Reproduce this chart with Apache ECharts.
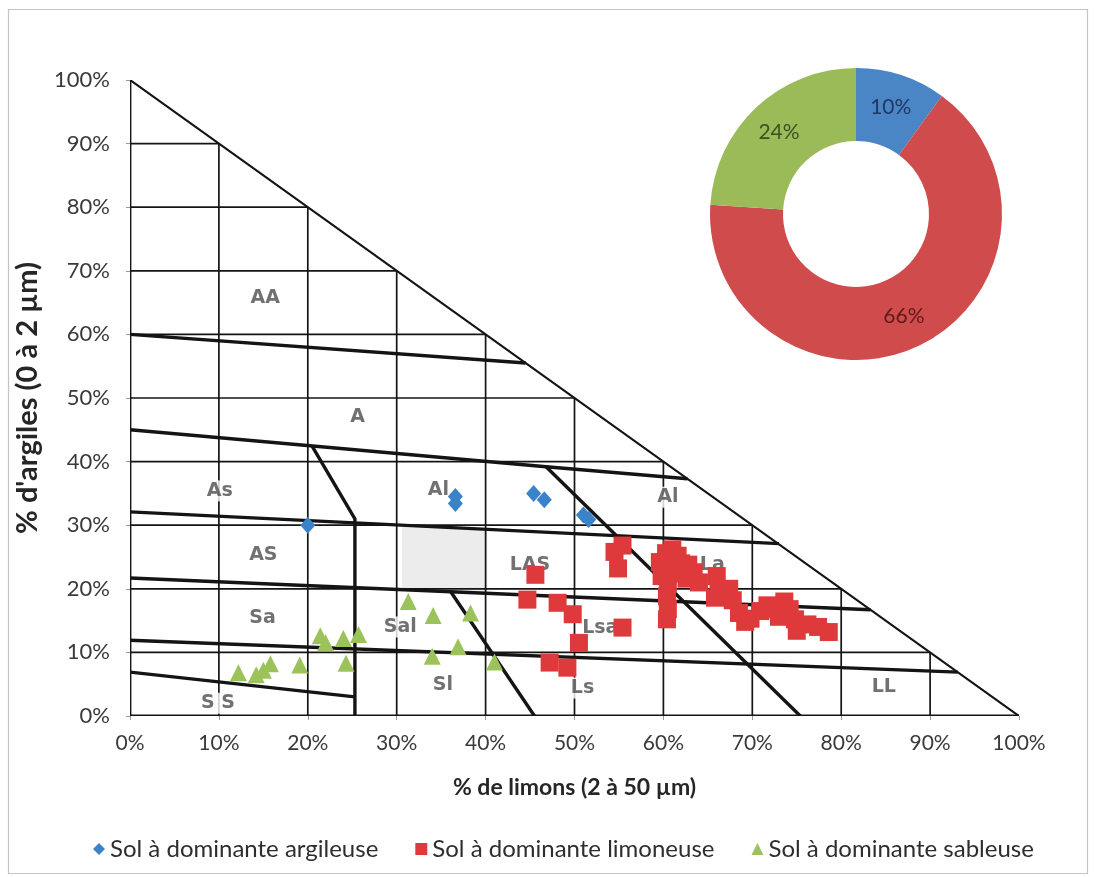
<!DOCTYPE html>
<html>
<head>
<meta charset="utf-8">
<script src="https://cdn.jsdelivr.net/npm/echarts@6/dist/echarts.min.js"></script>
<style>
  html, body { margin: 0; padding: 0; background: #ffffff; }
  #chart { width: 1094px; height: 877px; }
</style>
</head>
<body>
<div id="chart"></div>
<script>
// Series names (legend)
const seriesNames = ['Sol à dominante argileuse', 'Sol à dominante limoneuse', 'Sol à dominante sableuse'];

// Samples: [% limons, % argiles]
const argileux = [
  [20.0, 30.0], [36.6, 34.5], [36.6, 33.4], [45.4, 35.0], [46.6, 34.0], [51.0, 31.6], [51.6, 30.9]
];
const limoneux = [
  [45.6, 22.2], [44.7, 18.3], [48.1, 17.8], [49.8, 16.0], [50.5, 11.5], [47.2, 8.4], [49.2, 7.6],
  [55.4, 13.9], [54.5, 25.8], [55.4, 26.8], [54.9, 23.2], [59.6, 24.2], [60.3, 25.6], [61.0, 26.2],
  [61.6, 25.2], [60.4, 23.2], [61.2, 22.4], [62.0, 24.0], [62.6, 21.6], [60.5, 20.8], [60.4, 18.8],
  [60.5, 16.8], [60.4, 15.2], [63.4, 22.6], [62.8, 23.8], [66.0, 22.0], [66.2, 19.8], [65.8, 18.6],
  [67.4, 20.0], [67.8, 18.2], [68.5, 16.2], [69.2, 14.8], [70.9, 16.5], [71.7, 17.4], [72.5, 16.8],
  [73.6, 18.0], [74.2, 16.8], [74.8, 15.2], [75.0, 13.4], [76.2, 14.4], [77.4, 14.0], [78.6, 13.2],
  [59.8, 22.0], [64.0, 21.0], [69.8, 15.3], [73.0, 15.6]
];
const sableux = [
  [12.2, 6.8], [14.2, 6.5], [15.0, 7.2], [15.8, 8.2], [19.1, 8.0], [21.4, 12.6], [22.0, 11.5],
  [24.0, 12.2], [24.3, 8.3], [25.7, 12.8], [31.3, 18.0], [34.1, 15.8], [34.0, 9.4], [36.9, 10.9],
  [38.3, 16.2], [41.0, 8.5]
];

// Share of each soil group (%)
const shares = [10, 66, 24];

// Texture classes: [name, % limons, % argiles]
const classLabels = [
  ['AA', 15.2, 65.7], ['A', 25.6, 47.0], ['As', 10.1, 35.4], ['Al', 34.7, 35.5],
  ['AS', 15.0, 25.3], ['LAS', 45.0, 23.7], ['Al', 60.5, 34.4], ['La', 65.5, 23.7],
  ['Sa', 14.9, 15.4], ['Sal', 30.4, 14.0], ['Lsa', 52.9, 13.8], ['Sl', 35.2, 4.9],
  ['Ls', 50.9, 4.4], ['S S', 9.9, 2.0], ['LL', 84.8, 4.6]
];

// Class boundaries (polylines, [% limons, % argiles])
const classBoundaries = [
  [[0, 60], [44.5, 55.5]],
  [[0, 45], [46.8, 39.2], [62.7, 37.3]],
  [[20.5, 42.4], [25.3, 31.0], [25.3, 0]],
  [[0, 32.1], [73.0, 27.1]],
  [[0, 21.7], [83.3, 16.7]],
  [[0, 11.9], [93.1, 6.9]],
  [[0, 6.9], [25.3, 3.0]],
  [[36.1, 19.5], [45.5, 0]],
  [[46.8, 39.2], [75.4, 0]]
];

// Triangle outline
const triangleEdges = [
  [[0, 0], [0, 100]],
  [[0, 100], [100, 0]],
  [[0, 0], [100, 0]]
];

// Shaded cell
const shadedCell = [[30.6, 20.0], [40.2, 19.4], [40.2, 29.3], [30.6, 29.9]];

// Thin 10 % grid inside the triangle
const gridSteps = [10, 20, 30, 40, 50, 60, 70, 80, 90];

const ink = '#141414';
const lineData = [];
gridSteps.forEach(v => {
  lineData.push({ coords: [[v, 0], [v, 100 - v]], lineStyle: { width: 1.7 } });
  lineData.push({ coords: [[0, v], [100 - v, v]], lineStyle: { width: 1.7 } });
});
classBoundaries.forEach(c => lineData.push({ coords: c, lineStyle: { width: 3.4 } }));
triangleEdges.forEach((c, i) => lineData.push({ coords: c, lineStyle: { width: i === 1 ? 2.2 : 2.8 } }));

const colors = { blue: '#3a83c9', red: '#df3a3b', green: '#9cc35b' };
const pieColors = ['#4a86c6', '#d04b4b', '#9bbb59'];
const pieLabelColors = ['#1f3864', '#5e1b1b', '#3a5220'];

const chart = echarts.init(document.getElementById('chart'), null, { renderer: 'canvas' });

chart.setOption({
  backgroundColor: '#ffffff',
  animation: false,
  graphic: [{
    type: 'rect', shape: { x: 8.5, y: 9.5, width: 1079, height: 864 },
    style: { fill: 'none', stroke: '#c4c4c4', lineWidth: 1.2 }, z: -10
  }],
  grid: { left: 130, right: 75, top: 80, bottom: 161 },
  xAxis: {
    type: 'value', min: 0, max: 100, interval: 10,
    name: '% de limons (2 à 50 µm)', nameLocation: 'middle', nameGap: 60,
    nameTextStyle: { fontFamily: 'Lato', fontWeight: 'bold', fontSize: 23, color: '#262626' },
    axisLine: { show: false },
    axisTick: { show: true, length: 4, lineStyle: { color: '#9a9a9a' } },
    splitLine: { show: false },
    axisLabel: { formatter: '{value}%', margin: 17, fontFamily: 'Lato', fontSize: 21, color: '#3a3a3a' }
  },
  yAxis: {
    type: 'value', min: 0, max: 100, interval: 10,
    name: "% d'argiles (0 à 2 µm)", nameLocation: 'middle', nameGap: 88, nameRotate: 90,
    nameTextStyle: { fontFamily: 'Lato', fontWeight: 'bold', fontSize: 29, color: '#262626',
      padding: [0, 0, 0, 0] },
    axisLine: { show: false },
    axisTick: { show: true, length: 4, lineStyle: { color: '#9a9a9a' } },
    splitLine: { show: false },
    axisLabel: { formatter: '{value}%', margin: 20, fontFamily: 'Lato', fontSize: 22, color: '#3a3a3a' }
  },
  legend: {
    data: [
      { name: seriesNames[0], icon: 'diamond' },
      { name: seriesNames[1], icon: 'rect' },
      { name: seriesNames[2], icon: 'triangle' }
    ],
    left: 88, top: 832, itemWidth: 12, itemHeight: 12, itemGap: 37,
    textStyle: { fontFamily: 'Lato', fontSize: 24, color: '#2e2e2e' }
  },
  series: [
    {
      type: 'custom', coordinateSystem: 'cartesian2d', silent: true, z: 1,
      data: [0],
      renderItem: (params, api) => ({
        type: 'polygon',
        shape: { points: shadedCell.map(p => api.coord(p)) },
        style: { fill: '#ececec' }
      })
    },
    {
      type: 'lines', coordinateSystem: 'cartesian2d', polyline: true, silent: true, z: 2,
      lineStyle: { color: ink, opacity: 1 },
      data: lineData
    },
    {
      type: 'scatter', silent: true, z: 3, symbolSize: 0,
      data: classLabels.map(c => ({ name: c[0], value: [c[1], c[2]] })),
      label: {
        show: true, position: 'inside', formatter: p => p.name,
        fontFamily: 'DejaVu Sans', fontWeight: 'bold', fontSize: 19, color: '#4d4d4d',
        backgroundColor: '#ffffff', padding: [1, 2]
      }
    },
    {
      name: seriesNames[0], type: 'scatter', z: 5, symbol: 'diamond', symbolSize: [15, 17],
      itemStyle: { color: colors.blue, opacity: 1 }, data: argileux
    },
    {
      name: seriesNames[1], type: 'scatter', z: 5, symbol: 'rect', symbolSize: 18,
      itemStyle: { color: colors.red, opacity: 1 }, data: limoneux
    },
    {
      name: seriesNames[2], type: 'scatter', z: 5, symbol: 'triangle', symbolSize: 17,
      itemStyle: { color: colors.green, opacity: 1 }, data: sableux
    },
    {
      type: 'pie', center: [856, 214], radius: [73, 146], startAngle: 90, clockwise: true,
      silent: true, z: 6, legendHoverLink: false,
      data: shares.map((v, i) => ({
        value: v, name: 'part-' + i,
        itemStyle: { color: pieColors[i] },
        label: { color: pieLabelColors[i] }
      })),
      label: {
        show: true, position: 'inside', formatter: p => p.value + '%',
        fontFamily: 'Lato', fontSize: 21
      },
      labelLine: { show: false }
    }
  ]
});
</script>
</body>
</html>
